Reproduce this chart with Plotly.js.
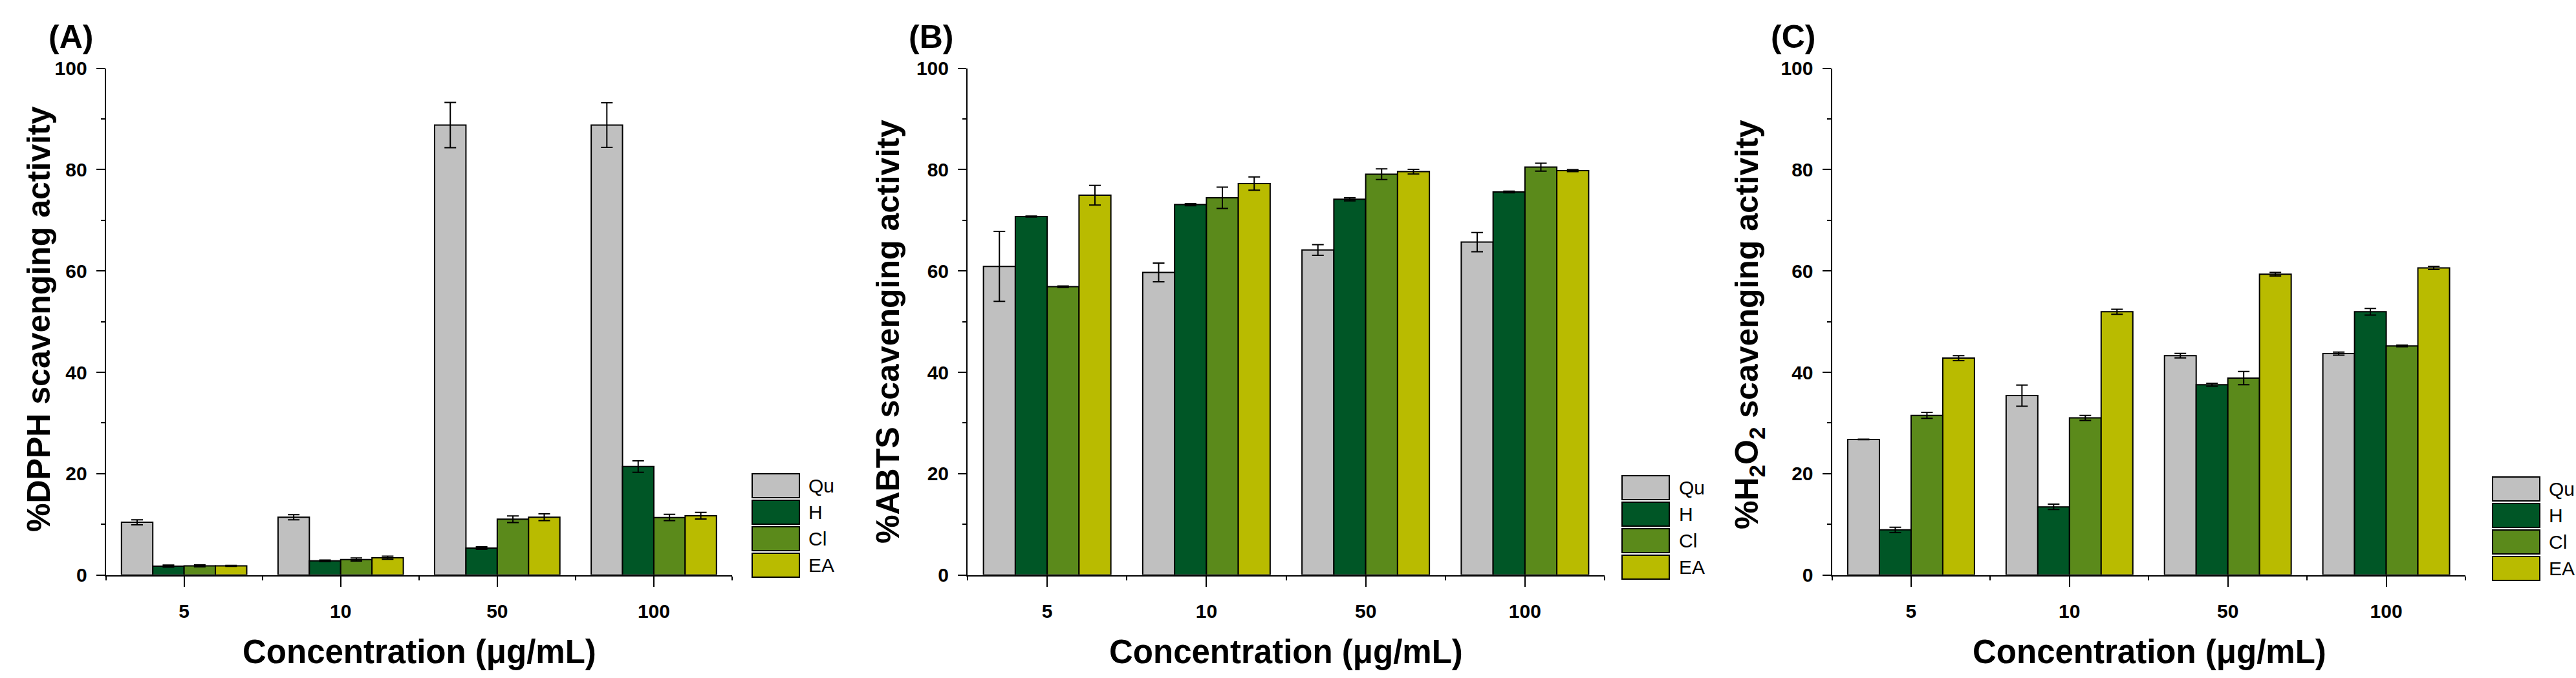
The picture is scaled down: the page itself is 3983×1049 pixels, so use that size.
<!DOCTYPE html>
<html><head><meta charset="utf-8">
<script src="https://cdn.plot.ly/plotly-3.0.1.min.js"></script>
<style>html,body{margin:0;padding:0;background:#fff;}#chart{width:3983px;height:1049px;}</style>
</head><body><div id="chart"></div>
<script>
// ---------- data ----------
const concentrations = ['5', '10', '50', '100'];
const seriesNames = ['Qu', 'H', 'Cl', 'EA'];
const seriesColors = ['#C0C0C0', '#005626', '#5B8A1B', '#B9BB00'];
const panelLabels = ['(A)', '(B)', '(C)'];
const yTitles = ['%DPPH scavenging activity', '%ABTS scavenging activity', '%H<sub>2</sub>O<sub>2</sub> scavenging activity'];
const xTitle = 'Concentration (μg/mL)';
const yTickVals = [0, 20, 40, 60, 80, 100];

// (A) DPPH
const dpphQu = [10.4, 11.4, 88.8, 88.8];
const dpphQuErr = [0.5, 0.5, 4.45, 4.4];
const dpphH = [1.75, 2.8, 5.3, 21.4];
const dpphHErr = [0.2, 0.15, 0.25, 1.13];
const dpphCl = [1.8, 3.05, 11.0, 11.35];
const dpphClErr = [0.2, 0.3, 0.64, 0.62];
const dpphEA = [1.8, 3.4, 11.4, 11.7];
const dpphEAErr = [0.1, 0.3, 0.66, 0.66];

// (B) ABTS
const abtsQu = [60.9, 59.7, 64.15, 65.7];
const abtsQuErr = [6.9, 1.85, 1.05, 1.9];
const abtsH = [70.75, 73.1, 74.15, 75.6];
const abtsHErr = [0.1, 0.2, 0.3, 0.15];
const abtsCl = [56.9, 74.45, 79.1, 80.5];
const abtsClErr = [0.15, 2.1, 1.05, 0.78];
const abtsEA = [74.95, 77.25, 79.6, 79.8];
const abtsEAErr = [1.95, 1.3, 0.47, 0.2];

// (C) H2O2
const h2o2Qu = [26.75, 35.4, 43.3, 43.7];
const h2o2QuErr = [0.05, 2.1, 0.45, 0.3];
const h2o2H = [8.9, 13.45, 37.55, 51.95];
const h2o2HErr = [0.53, 0.53, 0.3, 0.65];
const h2o2Cl = [31.5, 31.0, 38.85, 45.2];
const h2o2ClErr = [0.6, 0.5, 1.3, 0.15];
const h2o2EA = [42.8, 51.95, 59.35, 60.6];
const h2o2EAErr = [0.5, 0.5, 0.35, 0.3];

const panelValues = [
  [dpphQu, dpphH, dpphCl, dpphEA],
  [abtsQu, abtsH, abtsCl, abtsEA],
  [h2o2Qu, h2o2H, h2o2Cl, h2o2EA]
];
const panelErrors = [
  [dpphQuErr, dpphHErr, dpphClErr, dpphEAErr],
  [abtsQuErr, abtsHErr, abtsClErr, abtsEAErr],
  [h2o2QuErr, h2o2HErr, h2o2ClErr, h2o2EAErr]
];

// ---------- layout geometry (pixels) ----------
const W = 3983, H = 1049;
const FONT = 'Liberation Sans, Arial, Helvetica, sans-serif';
const px = x => x / W;
const py = y => 1 - y / H;
const plotTop = 105.7, plotBottom = 889.6;
const panels = [
  {x0: 163.6, x1: 1132, label: 73, yTitleX: 60, yTitleY: 494, xTitleX: 648, legBox: 1163, legText: 1248, legTop: 733},
  {x0: 1496, x1: 2481, label: 1403, yTitleX: 1373, yTitleY: 513, xTitleX: 1988, legBox: 2508, legText: 2594, legTop: 736},
  {x0: 2832.5, x1: 3812, label: 2736, yTitleX: 2704, yTitleY: 502, xTitleX: 3323, legBox: 3854, legText: 3939, legTop: 738}
];
const legBoxW = 73, legBoxH = 37, legPitch = 41;

const xIdx = concentrations.map((c, i) => i);
const xMinor = [-0.5].concat(concentrations.map((c, i) => i + 0.5));

const traces = [];
const layout = {
  width: W, height: H,
  margin: {l: 0, r: 0, t: 0, b: 0},
  paper_bgcolor: '#ffffff', plot_bgcolor: 'rgba(0,0,0,0)',
  barmode: 'group', bargap: 0.2, bargroupgap: 0,
  showlegend: false,
  font: {family: FONT, color: '#000'},
  shapes: [], annotations: []
};

panels.forEach((p, pi) => {
  const suf = pi === 0 ? '' : String(pi + 1);
  seriesNames.forEach((name, si) => {
    traces.push({
      type: 'bar', name: name,
      x: xIdx, y: panelValues[pi][si],
      xaxis: 'x' + suf, yaxis: 'y' + suf,
      marker: {color: seriesColors[si], line: {color: '#000', width: 2}},
      error_y: {type: 'data', array: panelErrors[pi][si], visible: true, color: '#000', thickness: 2, width: 9},
      hoverinfo: 'x+y+name'
    });
  });
  layout['xaxis' + suf] = {
    domain: [px(p.x0), px(p.x1)], anchor: 'y' + suf,
    type: 'linear', range: [-0.5, concentrations.length - 0.5],
    tickmode: 'array', tickvals: xIdx, ticktext: concentrations,
    ticks: 'outside', ticklen: 16, tickwidth: 2, tickcolor: '#000',
    minor: {tickmode: 'array', tickvals: xMinor, ticks: 'outside', ticklen: 6, tickwidth: 2, tickcolor: '#000', showgrid: false},
    ticklabelstandoff: 12,
    tickfont: {family: FONT, size: 30, color: '#000', weight: 'bold'},
    showline: true, linecolor: '#000', linewidth: 2,
    showgrid: false, zeroline: false, fixedrange: true
  };
  layout['yaxis' + suf] = {
    domain: [py(plotBottom), py(plotTop)], anchor: 'x' + suf,
    range: [0, 100], tickmode: 'array', tickvals: yTickVals,
    ticks: 'outside', ticklen: 13, tickwidth: 2, tickcolor: '#000',
    minor: {dtick: 10, tick0: 0, ticks: 'outside', ticklen: 6, tickwidth: 2, tickcolor: '#000', showgrid: false},
    ticklabelstandoff: 8,
    tickfont: {family: FONT, size: 30, color: '#000', weight: 'bold'},
    showline: true, linecolor: '#000', linewidth: 2,
    showgrid: false, zeroline: false, fixedrange: true
  };
  // panel label
  layout.annotations.push({
    text: panelLabels[pi], xref: 'paper', yref: 'paper',
    x: px(p.label), y: py(57), xanchor: 'left', yanchor: 'middle', showarrow: false,
    font: {family: FONT, size: 50, color: '#000', weight: 'bold'}
  });
  // y title
  layout.annotations.push({
    text: yTitles[pi], xref: 'paper', yref: 'paper', textangle: -90,
    x: px(p.yTitleX), y: py(p.yTitleY), xanchor: 'center', yanchor: 'middle', showarrow: false,
    font: {family: FONT, size: 50, color: '#000', weight: 'bold'}
  });
  // x title
  layout.annotations.push({
    text: xTitle, xref: 'paper', yref: 'paper',
    x: px(p.xTitleX), y: py(1008), xanchor: 'center', yanchor: 'middle', showarrow: false,
    font: {family: FONT, size: 51, color: '#000', weight: 'bold'}
  });
  // legend
  seriesNames.forEach((name, si) => {
    const top = p.legTop + si * legPitch;
    layout.shapes.push({
      type: 'rect', xref: 'paper', yref: 'paper',
      x0: px(p.legBox), x1: px(p.legBox + legBoxW), y0: py(top + legBoxH), y1: py(top),
      fillcolor: seriesColors[si], line: {color: '#000', width: 2}
    });
    layout.annotations.push({
      text: name, xref: 'paper', yref: 'paper',
      x: px(p.legText), y: py(top + legBoxH / 2), xanchor: 'left', yanchor: 'middle', showarrow: false,
      font: {family: FONT, size: 30, color: '#000'}
    });
  });
});

Plotly.newPlot('chart', traces, layout, {staticPlot: true, displayModeBar: false});
</script>
</body></html>
